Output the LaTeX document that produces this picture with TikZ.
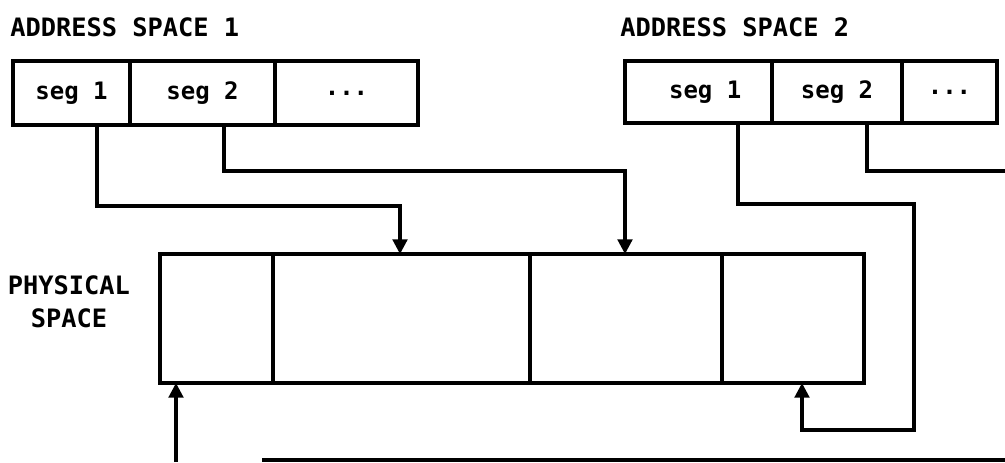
\documentclass[tikz,border=0pt]{standalone}
\usepackage{fontspec}
\setmonofont{DejaVu Sans Mono}
\usetikzlibrary{arrows.meta,positioning}
\newcommand{\pxu}{0.75pt}

\begin{document}
\begin{tikzpicture}[x=0.75pt,y=-0.75pt,
  cell/.style={draw,line width=2.7pt,outer sep=0pt,inner sep=0pt,anchor=north west,
    font=\ttfamily\bfseries\fontsize{18}{22}\selectfont},
  lbl/.style={inner sep=0pt,font=\ttfamily\bfseries\fontsize{19}{25}\selectfont},
  conn/.style={line width=2.3pt},
  arr/.style={conn,-{Triangle[length=11pt,width=11pt]}}]
  \useasboundingbox (0,0) rectangle (1005,462);
  \node[lbl,anchor=west] (t1) at (10,27) {ADDRESS SPACE 1};
  \node[lbl,anchor=west] (t2) at (620,27) {ADDRESS SPACE 2};
  \node[lbl,align=center] (phys) at (69,302) {PHYSICAL\\SPACE};
  % address space 1
  \node[cell,minimum width=117*\pxu,minimum height=64*\pxu] (a1s1) at (13,61) {seg 1\hspace{6pt}};
  \node[cell,minimum width=145*\pxu,minimum height=64*\pxu,right=0pt of a1s1] (a1s2) {seg 2\hspace{10pt}};
  \node[cell,minimum width=143*\pxu,minimum height=64*\pxu,right=0pt of a1s2] (a1s3) {...\hspace{10pt}};
  % address space 2
  \node[cell,minimum width=147*\pxu,minimum height=62*\pxu] (a2s1) at (625,61) {\hspace{10pt}seg 1};
  \node[cell,minimum width=130*\pxu,minimum height=62*\pxu,right=0pt of a2s1] (a2s2) {seg 2};
  \node[cell,minimum width=95*\pxu,minimum height=62*\pxu,right=0pt of a2s2] (a2s3) {...};
  % physical space
  \node[cell,minimum width=113*\pxu,minimum height=129*\pxu] (pm1) at (160,254) {};
  \node[cell,minimum width=257*\pxu,minimum height=129*\pxu,right=0pt of pm1] (pm2) {};
  \node[cell,minimum width=192*\pxu,minimum height=129*\pxu,right=0pt of pm2] (pm3) {};
  \node[cell,minimum width=142*\pxu,minimum height=129*\pxu,right=0pt of pm3] (pm4) {};
  \coordinate (b1) at (400,206);
  \coordinate (b2) at (625,171);
  \coordinate (b3) at (914,204);
  \coordinate (b4) at (802,430);
  \coordinate (b5) at (1005,171);
  \coordinate (b6) at (176,462);
  \coordinate (b7) at (262,460);
  \coordinate (b8) at (1005,460);
  \draw[arr] ([xshift=84*\pxu]a1s1.south west) |- (b1) -- (b1 |- pm2.north);
  \draw[arr] ([xshift=94*\pxu]a1s2.south west) |- (b2) -- (b2 |- pm3.north);
  \draw[arr] ([xshift=113*\pxu]a2s1.south west) |- (b3) |- (b4) -- (b4 |- pm4.south);
  \draw[conn] ([xshift=95*\pxu]a2s2.south west) |- (b5);
  \draw[arr] (b6) -- (b6 |- pm1.south);
  \draw[conn] (b7) -- (b8);
\end{tikzpicture}
\end{document}
